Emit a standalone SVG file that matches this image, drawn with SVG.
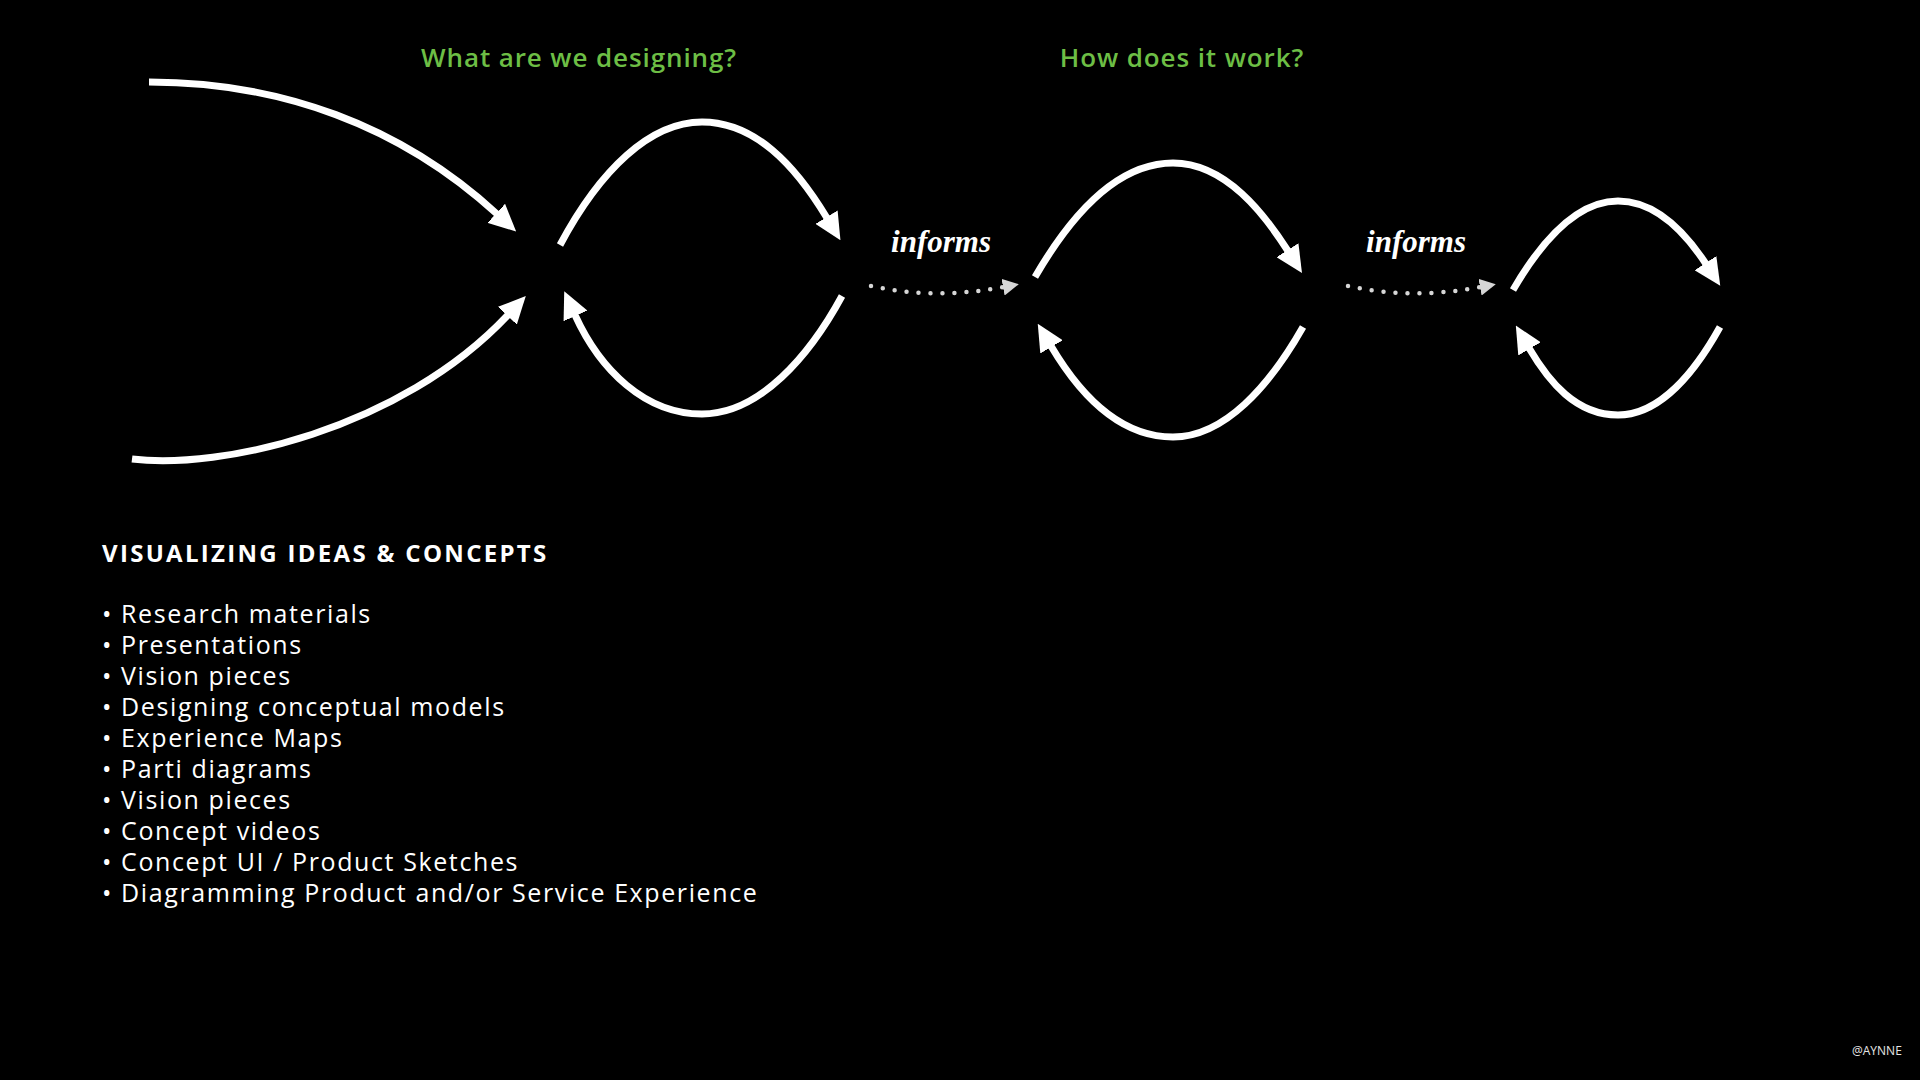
<svg xmlns="http://www.w3.org/2000/svg" width="1920" height="1080" viewBox="0 0 1920 1080">
<defs>
<style>
.bg{fill:#000}
.arc{fill:none;stroke:#fff;stroke-width:7;stroke-linecap:butt}
.dots{fill:none;stroke:#d6d6d6;stroke-width:4.5;stroke-linecap:round;stroke-dasharray:0 12}
.head{font-family:"Open Sans","Liberation Sans",sans-serif;font-size:26px;font-weight:600;fill:#6dbe45;text-anchor:middle;letter-spacing:0.9px}
.informs{font-family:"Liberation Serif",serif;font-style:italic;font-weight:bold;font-size:31px;fill:#fff;text-anchor:middle}
.title{font-family:"Open Sans","Liberation Sans",sans-serif;font-size:24px;font-weight:700;fill:#fff;letter-spacing:2.3px}
.item{font-family:"Open Sans","Liberation Sans",sans-serif;font-size:25px;font-weight:400;fill:#fff;letter-spacing:1.6px}
.credit{font-family:"Open Sans","Liberation Sans",sans-serif;font-size:12px;fill:#e6e6e6}
</style>
<marker id="ah" viewBox="0 0 27 26" markerWidth="27" markerHeight="26" refX="1" refY="13" orient="auto" markerUnits="userSpaceOnUse">
<path d="M0,0 L27,13 L0,26 Z" fill="#fff"/>
</marker>
<marker id="ahg" viewBox="0 0 16 17" markerWidth="16" markerHeight="17" refX="1" refY="8.5" orient="auto" markerUnits="userSpaceOnUse">
<path d="M0,0 L16,8.5 L0,17 Z" fill="#d6d6d6"/>
</marker>
</defs>
<rect class="bg" x="0" y="0" width="1920" height="1080"/>

<g id="heading-what"><text class="head" x="579" y="67">What are we designing?</text></g>
<g id="heading-how"><text class="head" x="1182" y="67">How does it work?</text></g>

<g id="label-informs-1"><text class="informs" x="941" y="252">informs</text></g>
<g id="label-informs-2"><text class="informs" x="1416" y="252">informs</text></g>

<g id="connectors">
<path class="arc" d="M149,82 C280,82 400,125 497,214" marker-end="url(#ah)"/>
<path class="arc" d="M132,459 C220,470 400,430 508,315" marker-end="url(#ah)"/>

<path class="arc" d="M560,245 C600,170 650,122 702,122 C755,122 795,165 827,218" marker-end="url(#ah)"/>
<path class="arc" d="M842,296 C810,355 760,414 702,414 C645,414 600,370 575,315" marker-end="url(#ah)"/>

<path class="dots" d="M871,286 Q935,300 1004,287" marker-end="url(#ahg)"/>

<path class="arc" d="M1035,277 C1075,208 1120,163 1173,163 C1226,163 1265,215 1288,251" marker-end="url(#ah)"/>
<path class="arc" d="M1303,327 C1270,385 1225,437 1173,437 C1120,437 1080,395 1051,346" marker-end="url(#ah)"/>

<path class="dots" d="M1348,286 Q1412,300 1481,287" marker-end="url(#ahg)"/>

<path class="arc" d="M1513,290 C1545,235 1580,201 1618,201 C1656,201 1685,232 1706,264" marker-end="url(#ah)"/>
<path class="arc" d="M1720,327 C1695,372 1660,415 1618,415 C1576,415 1549,382 1529,348" marker-end="url(#ah)"/>
</g>

<g id="concepts-list">
<text class="title" x="102" y="562">VISUALIZING IDEAS &amp; CONCEPTS</text>
<text class="item" x="102" y="623">• Research materials</text>
<text class="item" x="102" y="654">• Presentations</text>
<text class="item" x="102" y="685">• Vision pieces</text>
<text class="item" x="102" y="716">• Designing conceptual models</text>
<text class="item" x="102" y="747">• Experience Maps</text>
<text class="item" x="102" y="778">• Parti diagrams</text>
<text class="item" x="102" y="809">• Vision pieces</text>
<text class="item" x="102" y="840">• Concept videos</text>
<text class="item" x="102" y="871">• Concept UI / Product Sketches</text>
<text class="item" x="102" y="902">• Diagramming Product and/or Service Experience</text>
</g>

<g id="credit"><text class="credit" x="1852" y="1055">@AYNNE</text></g>
</svg>
